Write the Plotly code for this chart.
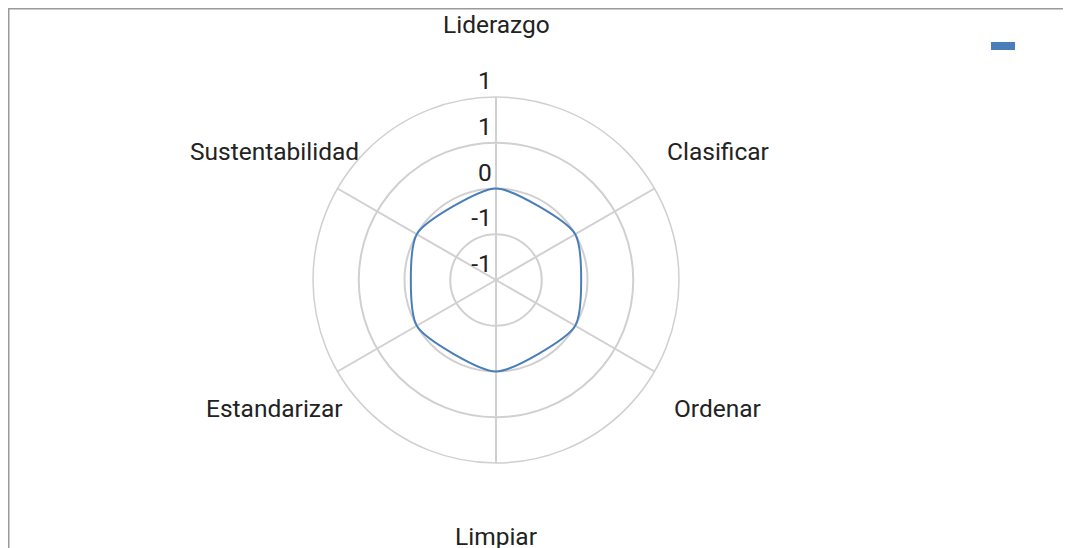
import plotly.graph_objects as go
import numpy as np

categories = ["Liderazgo", "Clasificar", "Ordenar", "Limpiar", "Estandarizar", "Sustentabilidad"]
values = [0, 0, 0, 0, 0, 0]
radial_tickvals = [-1, -0.5, 0, 0.5, 1]
radial_ticktext = ["-1", "-1", "0", "1", "1"]

OFF = 8  # page body margin
W, H = 1071 - OFF, 548 - OFF
cx_px, cy_px, R = 496 - OFF, 280 - OFF, 183
label_r = 256

fig = go.Figure()
fig.add_trace(go.Scatterpolar(
    r=values + values[:1],
    theta=categories + categories[:1],
    mode="lines",
    line=dict(color="#4A7EBB", width=2, shape="spline", smoothing=0.6),
    showlegend=False,
    hoverinfo="skip",
))

axis_font = dict(family="Roboto", size=24.5, color="#222222")

annotations = []
for i, c in enumerate(categories):
    ang = np.deg2rad(90 - i * 360 / len(categories))
    x = (cx_px + label_r * np.cos(ang)) / W
    y = 1 - (cy_px - label_r * np.sin(ang)) / H
    annotations.append(dict(
        x=x, y=y, xref="paper", yref="paper", text=c, showarrow=False,
        xanchor="center", yanchor="middle", font=axis_font,
    ))

fig.update_layout(
    width=W, height=H,
    margin=dict(l=0, r=0, t=0, b=0),
    paper_bgcolor="white",
    plot_bgcolor="white",
    showlegend=False,
    polar=dict(
        domain=dict(x=[(cx_px - R) / W, (cx_px + R) / W],
                    y=[1 - (cy_px + R) / H, 1 - (cy_px - R) / H]),
        bgcolor="white",
        radialaxis=dict(
            range=[-1, 1], tickvals=radial_tickvals,
            ticktext=[t + "<br> " for t in radial_ticktext],
            angle=90, tickangle=90, side="counterclockwise",
            showline=False, ticks="",
            gridcolor="#D0D0D0", gridwidth=1.5,
            tickfont=axis_font,
        ),
        angularaxis=dict(
            rotation=90, direction="clockwise",
            showticklabels=False, ticks="",
            gridcolor="#D0D0D0", gridwidth=1.5,
            linecolor="#D0D0D0", linewidth=1.5,
        ),
    ),
    annotations=annotations,
    shapes=[
        dict(type="line", xref="paper", yref="paper", x0=0, x1=0, y0=0, y1=1,
             line=dict(color="#9A9A9A", width=3)),
        dict(type="line", xref="paper", yref="paper", x0=0, x1=1, y0=1, y1=1,
             line=dict(color="#9A9A9A", width=3)),
        dict(type="rect", xref="paper", yref="paper", x0=(991 - OFF) / W, x1=(1015 - OFF) / W,
             y0=1 - (50 - OFF) / H, y1=1 - (42 - OFF) / H, fillcolor="#4A7EBB", line=dict(width=0)),
    ],
)

fig.write_html("out.html")
